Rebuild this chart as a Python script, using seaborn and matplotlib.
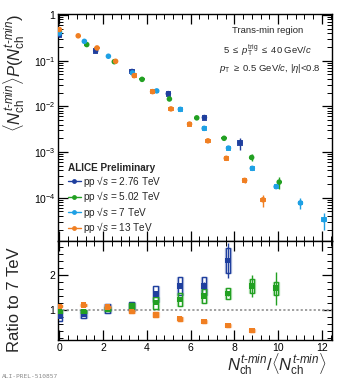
import numpy as np
import pandas as pd
import matplotlib
matplotlib.use("Agg")
import matplotlib.pyplot as plt
import seaborn as sns
from matplotlib.lines import Line2D
from matplotlib.ticker import FixedLocator, MultipleLocator, LogLocator, NullFormatter

# ---------------- data ----------------
energies = ["2.76 TeV", "5.02 TeV", "7 TeV", "13 TeV"]
colors = ["#1f3f9e", "#22a022", "#1ea0e4", "#f07f22"]

x_276 = [0.0, 1.66, 3.32, 4.98, 6.63, 8.26]
y_276 = [0.37, 0.165, 0.058, 0.019, 0.0057, 0.0016]
stat_276 = [0.01, 0.01, 0.01, 0.02, 0.05, 0.30]
sys_276 = [0.14, 0.14, 0.14, 0.14, 0.14, 0.14]

x_502 = [0.0, 1.25, 2.51, 3.78, 5.03, 6.28, 7.53, 8.79, 10.05]
y_502 = [0.43, 0.225, 0.095, 0.039, 0.0145, 0.0056, 0.0020, 7.6e-4, 2.2e-4]
stat_502 = [0.01, 0.01, 0.01, 0.01, 0.01, 0.02, 0.04, 0.18, 0.30]
sys_502 = [0.05, 0.05, 0.05, 0.05, 0.05, 0.05, 0.05, 0.05, 0.05]

x_7 = [0.0, 1.14, 2.24, 3.34, 4.45, 5.53, 6.62, 7.73, 8.82, 9.91, 11.02, 12.1]
y_7 = [0.40, 0.265, 0.125, 0.054, 0.0218, 0.0086, 0.0033, 0.00122, 4.4e-4, 1.75e-4, 7.7e-5, 3.3e-5]
stat_7 = [0.01, 0.01, 0.01, 0.01, 0.01, 0.01, 0.02, 0.03, 0.05, 0.08, 0.25, 0.40]
sys_7 = [0.12, 0.05, 0.05, 0.12, 0.12, 0.12, 0.12, 0.12, 0.12, 0.12, 0.12, 0.12]

x_13 = [0.0, 0.86, 1.72, 2.57, 3.42, 4.26, 5.10, 5.95, 6.79, 7.63, 8.47, 9.31]
y_13 = [0.48, 0.35, 0.19, 0.097, 0.047, 0.021, 0.0088, 0.0041, 0.00176, 7.3e-4, 2.4e-4, 9.0e-5]
stat_13 = [0.01, 0.01, 0.01, 0.01, 0.01, 0.01, 0.01, 0.02, 0.03, 0.05, 0.14, 0.30]
sys_13 = [0.05, 0.05, 0.05, 0.05, 0.12, 0.12, 0.12, 0.12, 0.12, 0.12, 0.12, 0.12]

# ratios to 7 TeV
rx_276 = [0.0, 1.1, 2.2, 3.3, 4.4, 5.5, 6.6, 7.7]
r_276 = [0.81, 0.89, 1.05, 1.11, 1.45, 1.69, 1.69, 2.41]
rstat_276 = [0.02, 0.02, 0.02, 0.02, 0.03, 0.05, 0.10, 0.50]
rsys_276 = [0.12, 0.12, 0.13, 0.13, 0.23, 0.25, 0.25, 0.36]

rx_502 = [0.0, 1.1, 2.2, 3.3, 4.4, 5.5, 6.6, 7.7, 8.8, 9.9]
r_502 = [0.96, 0.96, 1.02, 1.11, 1.21, 1.30, 1.40, 1.47, 1.68, 1.62]
rstat_502 = [0.01, 0.01, 0.01, 0.02, 0.02, 0.03, 0.05, 0.08, 0.31, 0.47]
rsys_502 = [0.05, 0.05, 0.06, 0.08, 0.17, 0.19, 0.20, 0.17, 0.20, 0.18]

rx_13 = [0.0, 1.1, 2.2, 3.3, 4.4, 5.5, 6.6, 7.7, 8.8]
r_13 = [1.10, 1.14, 1.09, 0.95, 0.86, 0.75, 0.67, 0.55, 0.41]
rstat_13 = [0.01, 0.01, 0.01, 0.01, 0.01, 0.02, 0.02, 0.03, 0.04]
rsys_13 = [0.03, 0.03, 0.03, 0.04, 0.07, 0.06, 0.05, 0.04, 0.04]

upper_yticks = [1e-4, 1e-3, 1e-2, 1e-1, 1]
upper_yticklabels = ["$10^{-4}$", "$10^{-3}$", "$10^{-2}$", "$10^{-1}$", "1"]

# ---------------- style ----------------
sns.set_theme(style="ticks")
plt.rcParams["font.family"] = ["Liberation Sans", "DejaVu Sans"]
plt.rcParams["mathtext.fontset"] = "custom"
plt.rcParams["mathtext.rm"] = "Liberation Sans"
plt.rcParams["mathtext.it"] = "Liberation Sans:italic"
plt.rcParams["mathtext.bf"] = "Liberation Sans:bold"
plt.rcParams["axes.edgecolor"] = "black"
plt.rcParams["axes.linewidth"] = 1.0

HY = "\u2010"
NCH = r"N_{\rm ch}^{t" + HY + r"min}"

fig = plt.figure(figsize=(3.4, 3.83), dpi=100)
L, R = 0.1715, 0.9756
T, M, B = 0.9634, 0.3708, 0.1123
ax = fig.add_axes([L, M, R - L, T - M])
axr = fig.add_axes([L, B, R - L, M - B], sharex=ax)

upper = [(x_276, y_276, stat_276, sys_276),
         (x_502, y_502, stat_502, sys_502),
         (x_7, y_7, stat_7, sys_7),
         (x_13, y_13, stat_13, sys_13)]

frames = []
for lab, (xs, ys, st, sy) in zip(energies, upper):
    frames.append(pd.DataFrame({"x": xs, "y": ys, "stat": st, "sys": sy, "E": lab}))
df = pd.concat(frames, ignore_index=True)

ax.set_yscale("log")
for lab, c in zip(energies, colors):
    d = df[df.E == lab]
    y = d.y.values
    ax.bar(d.x.values, 2 * d.sys.values * y, bottom=y * (1 - d.sys.values), width=0.24,
           color=c, alpha=0.9, linewidth=0, zorder=2)
    ax.errorbar(d.x.values, y, yerr=d.stat.values * y, fmt="none", ecolor=c,
                elinewidth=1.0, capsize=0, zorder=3)
sns.scatterplot(data=df, x="x", y="y", hue="E", palette=colors, hue_order=energies,
                s=16, marker="o", linewidth=0, legend=False, ax=ax, zorder=4)

ax.set_ylim(1.13e-5, 1.05)
ax.set_xlim(-0.05, 12.45)
ax.yaxis.set_major_locator(FixedLocator(upper_yticks))
ax.set_yticklabels(upper_yticklabels)
ax.yaxis.set_minor_locator(LogLocator(base=10, subs=np.arange(2, 10), numticks=20))
ax.yaxis.set_minor_formatter(NullFormatter())
ax.xaxis.set_major_locator(MultipleLocator(2))
ax.xaxis.set_minor_locator(MultipleLocator(0.4))
ax.tick_params(axis="x", labelbottom=False)

for a in (ax, axr):
    a.tick_params(which="both", direction="in", top=True, right=True, colors="black",
                  labelsize=7.5, pad=2)
    a.tick_params(which="major", length=7, width=0.9)
    a.tick_params(which="minor", length=3.5, width=0.7)
    for s in a.spines.values():
        s.set_linewidth(1.0)
        s.set_color("black")

ax.set_xlabel("")
ax.set_ylabel(r"$\langle " + NCH + r"\rangle P(" + NCH + r")$",
              fontsize=12, loc="top", labelpad=0)
ax.yaxis.set_label_coords(-0.115, 1.0)

# text
ax.text(0.767, 0.926, "Trans-min region", transform=ax.transAxes, ha="center",
        va="center", fontsize=6.8)
ax.text(0.767, 0.841, r"5 $\leq$ $p_{\rm T}^{\rm trig}$ $\leq$ 40 GeV/$c$",
        transform=ax.transAxes, ha="center", va="center", fontsize=6.8)
ax.text(0.773, 0.762, r"$p_{\rm T}$ $\geq$ 0.5 GeV/$c$, |$\eta$|<0.8",
        transform=ax.transAxes, ha="center", va="center", fontsize=6.8)

handles = [Line2D([0], [0], color=c, lw=1.0, marker="o", markersize=3.5,
                  markeredgewidth=0) for c in colors]
labels = ["pp \u221a$s$ = " + e for e in energies]
leg = ax.legend(handles, labels, loc="lower left", bbox_to_anchor=(0.035, 0.025),
                frameon=False, fontsize=7.2, handlelength=1.3, handletextpad=0.25,
                labelspacing=0.05, borderaxespad=0, borderpad=0,
                title="ALICE Preliminary", alignment="left",
                title_fontproperties={"weight": "bold", "size": 7.2})

# ratio panel
ratio = [(rx_276, r_276, rstat_276, rsys_276, colors[0], energies[0]),
         (rx_502, r_502, rstat_502, rsys_502, colors[1], energies[1]),
         (rx_13, r_13, rstat_13, rsys_13, colors[3], energies[3])]
rframes = []
for xs, rs, st, sy, c, lab in ratio:
    rframes.append(pd.DataFrame({"x": xs, "r": rs, "stat": st, "sys": sy, "E": lab}))
rdf = pd.concat(rframes, ignore_index=True)

axr.axhline(1.0, color="#999999", lw=1.3, ls=(0, (1.2, 1.2)), zorder=1)
for xs, rs, st, sy, c, lab in ratio:
    xs = np.array(xs); rs = np.array(rs); sy = np.array(sy)
    axr.bar(xs, 2 * sy, bottom=rs - sy, width=0.2, fill=False, edgecolor=c,
            linewidth=1.0, zorder=2)
    axr.bar(xs, 2 * sy, bottom=rs - sy, width=0.28, fill=False, edgecolor=c,
            linewidth=1.0, alpha=0.3, zorder=2)
    axr.errorbar(xs, rs, yerr=st, fmt="none", ecolor=c, elinewidth=1.0, capsize=0, zorder=3)
sns.scatterplot(data=rdf, x="x", y="r", hue="E", palette=[colors[0], colors[1], colors[3]],
                hue_order=[energies[0], energies[1], energies[3]], s=16, marker="s",
                linewidth=0, legend=False, ax=axr, zorder=4)

axr.set_ylim(0.14, 2.97)
axr.yaxis.set_major_locator(FixedLocator([1, 2]))
axr.set_yticklabels(["1", "2"])
axr.yaxis.set_minor_locator(MultipleLocator(0.2))
axr.xaxis.set_major_locator(MultipleLocator(2))
axr.xaxis.set_minor_locator(MultipleLocator(0.4))
axr.set_xlim(-0.05, 12.45)
axr.set_ylabel("Ratio to 7 TeV", fontsize=12, loc="top", labelpad=0)
axr.yaxis.set_label_coords(-0.133, 0.94)
axr.set_xlabel(r"$" + NCH + r"/\langle " + NCH + r"\rangle$",
               fontsize=12, loc="right", labelpad=0)
axr.xaxis.set_label_coords(0.982, -0.12)

fig.text(0.006, 0.012, "ALI-PREL-510857", family="DejaVu Sans Mono", fontsize=4.5,
         color="#8a8a8a")

fig.savefig("out.png", dpi=100)
